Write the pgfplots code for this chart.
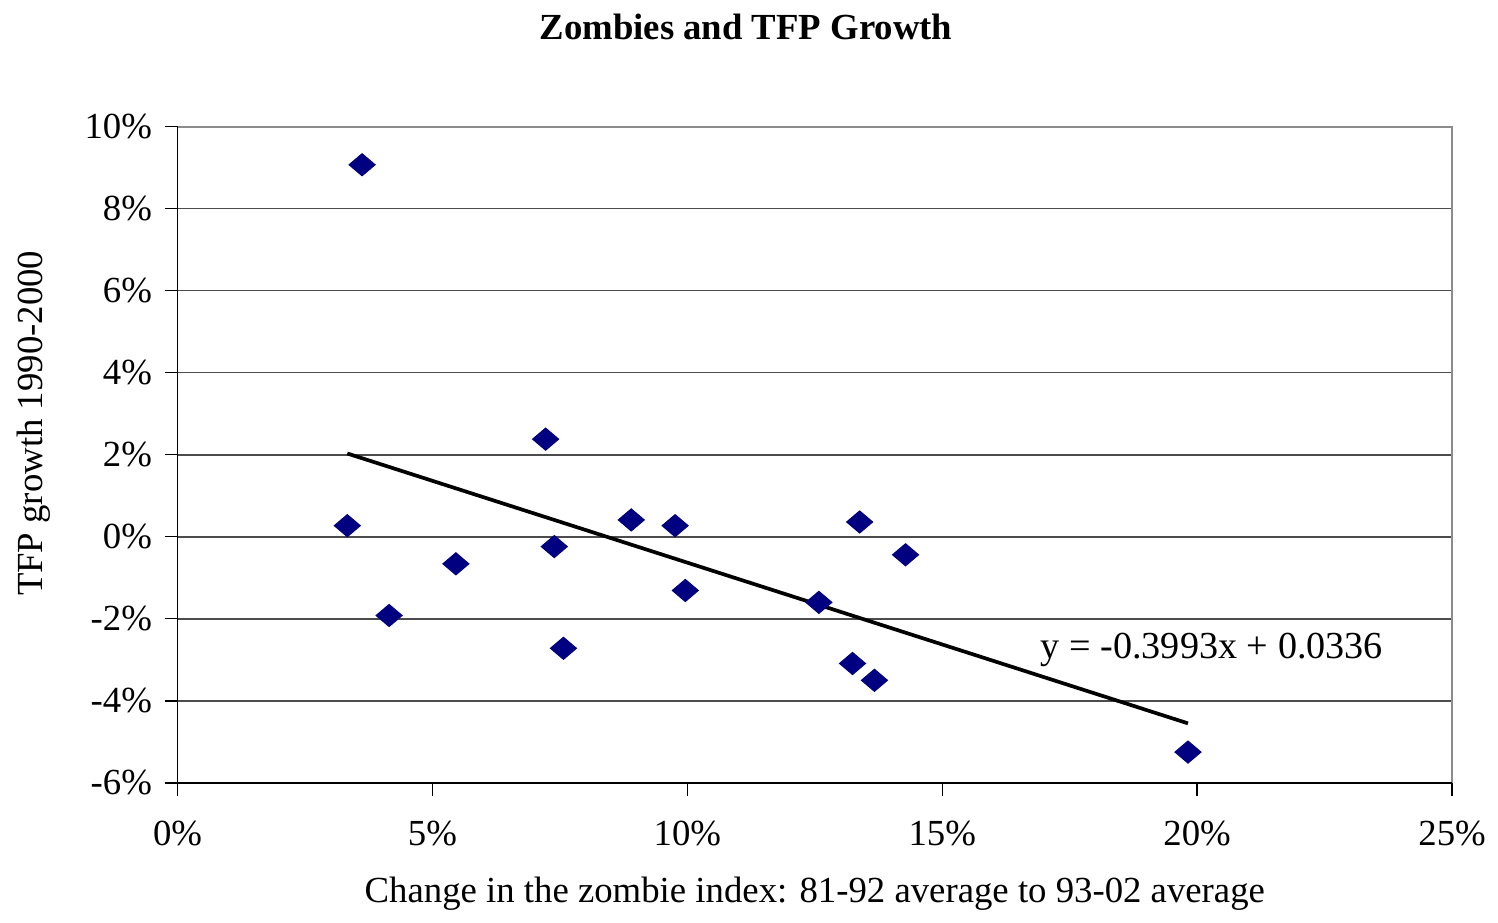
\documentclass[border=0pt]{standalone}
\usepackage{fontspec}
\setmainfont{Liberation Serif}
\usepackage{pgfplots}
\pgfplotsset{compat=1.18}
\definecolor{navy}{RGB}{0,0,128}
\begin{document}
\fontsize{12.9pt}{15.5pt}\selectfont
\begin{tikzpicture}
\begin{axis}[
  scale only axis,
  width=447.3pt, height=230.3pt,
  xmin=0, xmax=25, ymin=-6, ymax=10,
  xtick={0,5,10,15,20,25},
  xticklabels={0\%,5\%,10\%,15\%,20\%,25\%},
  ytick={-6,-4,-2,0,2,4,6,8,10},
  yticklabels={-6\%,-4\%,-2\%,0\%,2\%,4\%,6\%,8\%,10\%},
  tick align=outside,
  major tick length=4.5pt,
  tick style={black, line width=0.5pt},
  xtick pos=bottom, ytick pos=left,
  ymajorgrids,
  grid style={black!70, line width=0.55pt},
  axis line style={draw=none},
  ticklabel style={font=\fontsize{12.9pt}{15.5pt}\selectfont},
  yticklabel style={xshift=0pt},
  xticklabel style={yshift=-4.5pt},
  title={\bfseries Zombies and TFP Growth},
  title style={at={(axis description cs:0.446,1.1064)}, anchor=base, font=\fontsize{12.9pt}{15.5pt}\selectfont\bfseries},
  xlabel={Change in the zombie index: 81-92 average to 93-02 average},
  xlabel style={at={(axis description cs:0.5,-0.1824)}, anchor=base},
  ylabel={TFP growth 1990-2000},
  ylabel style={at={(axis description cs:-0.1056,0.284)}, anchor=base west, inner sep=0pt},
  clip=false,
]
% fixed picture extent (reference margins)
\path (rel axis cs:-0.1393,-0.1945) rectangle (rel axis cs:1.0329,1.1930);
% frame
\draw[black!45, line width=0.75pt] (rel axis cs:0,1) -- (rel axis cs:1,1) -- (rel axis cs:1,0);
\draw[black, line width=0.6pt] (rel axis cs:0,1) -- (rel axis cs:0,0) -- (rel axis cs:1,0);
\addplot[only marks, mark=diamond*, mark size=3.85pt, mark options={fill=navy, draw=navy, xscale=1.57}]
  coordinates {
  (3.62,9.07) (3.33,0.27) (4.15,-1.92) (5.46,-0.66) (7.22,2.38) (7.39,-0.24)
  (7.57,-2.72) (8.90,0.41) (9.76,0.27) (9.96,-1.31) (12.58,-1.60) (13.38,0.36)
  (13.24,-3.09) (13.67,-3.50) (14.28,-0.44) (19.82,-5.25)
  };
\addplot[black, line width=1.3pt] coordinates {(3.33,2.03) (19.82,-4.55)};
\node[anchor=center, font=\fontsize{13.4pt}{16pt}\selectfont] at (axis cs:20.29,-2.75) {y = -0.3993x + 0.0336};
\end{axis}
\end{tikzpicture}
\end{document}
